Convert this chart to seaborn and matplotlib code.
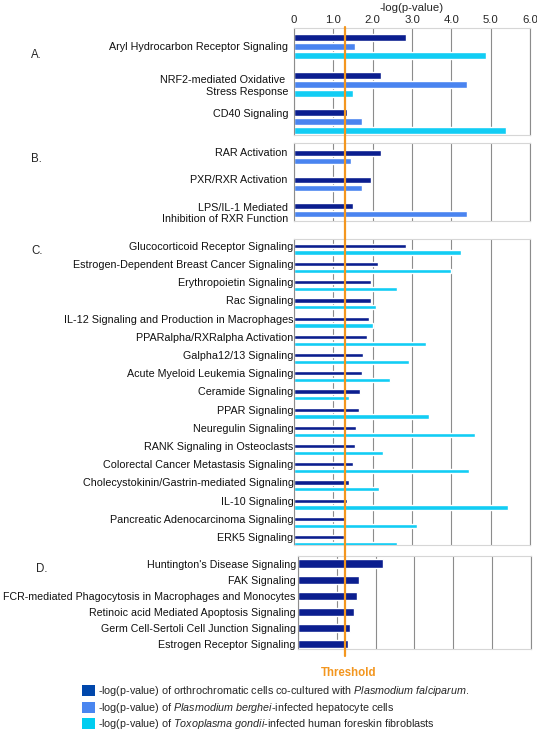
import numpy as np
import pandas as pd
import matplotlib
matplotlib.use("Agg")
import matplotlib.pyplot as plt
import matplotlib.transforms as mtransforms
from matplotlib.lines import Line2D
from matplotlib.patches import Patch
import seaborn as sns

# ---- data ----
SERIES = ["falciparum", "berghei", "gondii"]

a_pathways = [
    "Aryl Hydrocarbon Receptor Signaling",
    "NRF2-mediated Oxidative \nStress Response",
    "CD40 Signaling",
]
a_falciparum = [2.84, 2.20, 1.36]
a_berghei = [1.54, 4.40, 1.74]
a_gondii = [4.87, 1.51, 5.38]

b_pathways = [
    "RAR Activation",
    "PXR/RXR Activation",
    "LPS/IL-1 Mediated\nInhibition of RXR Function",
]
b_falciparum = [2.22, 1.96, 1.49]
b_berghei = [1.44, 1.72, 4.39]

c_pathways = [
    "Glucocorticoid Receptor Signaling",
    "Estrogen-Dependent Breast Cancer Signaling",
    "Erythropoietin Signaling",
    "Rac Signaling",
    "IL-12 Signaling and Production in Macrophages",
    "PPARalpha/RXRalpha Activation",
    "Galpha12/13 Signaling",
    "Acute Myeloid Leukemia Signaling",
    "Ceramide Signaling",
    "PPAR Signaling",
    "Neuregulin Signaling",
    "RANK Signaling in Osteoclasts",
    "Colorectal Cancer Metastasis Signaling",
    "Cholecystokinin/Gastrin-mediated Signaling",
    "IL-10 Signaling",
    "Pancreatic Adenocarcinoma Signaling",
    "ERK5 Signaling",
]
c_falciparum = [2.85, 2.13, 1.96, 1.96, 1.90, 1.86, 1.76, 1.74, 1.69,
                1.65, 1.58, 1.54, 1.51, 1.40, 1.34, 1.33, 1.27]
c_gondii = [4.25, 4.00, 2.61, 2.09, 2.00, 3.36, 2.92, 2.43, 1.40,
            3.43, 4.60, 2.26, 4.44, 2.16, 5.44, 3.12, 2.61]

d_pathways = [
    "Huntington's Disease Signaling",
    "FAK Signaling",
    "FCR-mediated Phagocytosis in Macrophages and Monocytes",
    "Retinoic acid Mediated Apoptosis Signaling",
    "Germ Cell-Sertoli Cell Junction Signaling",
    "Estrogen Receptor Signaling",
]
d_falciparum = [2.19, 1.57, 1.52, 1.44, 1.35, 1.28]

THRESHOLD = 1.3
X_TICKS = [0, 1, 2, 3, 4, 5, 6]
X_TICK_LABELS = ["0", "1.0", "2.0", "3.0", "4.0", "5.0", "6.0"]

LEGEND_LABELS = [
    r"-log(p-value) of orthrochromatic cells co-cultured with $\mathit{Plasmodium\ falciparum.}$",
    r"-log(p-value) of $\mathit{Plasmodium\ berghei}$-infected hepatocyte cells",
    r"-log(p-value) of $\mathit{Toxoplasma\ gondii}$-infected human foreskin fibroblasts",
]

# ---- styling ----
BAR_COLORS = {"falciparum": "#0b1e8f", "berghei": "#4a84f0", "gondii": "#12cdf4"}
LEGEND_COLORS = ["#0047ab", "#4a86f0", "#00cdf0"]
GRID = "#8c8c8c"
FRAME = "#d6d6d6"
ORANGE = "#f3961f"
FS = 7.72

sns.set_style("white")
plt.rcParams["font.family"] = ["Liberation Sans", "DejaVu Sans"]
plt.rcParams["mathtext.fontset"] = "custom"
plt.rcParams["mathtext.rm"] = "Liberation Sans"
plt.rcParams["mathtext.it"] = "Liberation Sans:italic"

W, H = 537, 733


def px_axes(fig, left, top, right, bottom):
    return fig.add_axes([left / W, 1 - bottom / H, (right - left) / W, (bottom - top) / H])


def long_table(pathways, **series):
    df = pd.DataFrame({"pathway": pathways, **series})
    return df.melt(id_vars="pathway", var_name="series", value_name="score")


def draw_panel(ax, df, hue_order, width, gap, ylim, label_shift, pad, labelsize=FS):
    sns.barplot(
        data=df,
        x="score",
        y="pathway",
        hue="series",
        hue_order=hue_order,
        palette=[BAR_COLORS[h] for h in hue_order],
        orient="h",
        width=width,
        gap=gap,
        saturation=1,
        errorbar=None,
        legend=False,
        ax=ax,
    )
    labels = list(df["pathway"].unique())
    ax.set_yticks(np.arange(len(labels)) + np.asarray(label_shift), labels)
    ax.set_ylim(*ylim)
    ax.set_xlim(0, 6)
    ax.set_xticks(X_TICKS, X_TICK_LABELS)
    ax.grid(axis="x", color=GRID, linewidth=0.8)
    ax.grid(axis="y", visible=False)
    ax.set_axisbelow(True)
    ax.set_xlabel("")
    ax.set_ylabel("")
    for side in ["left", "right"]:
        ax.spines[side].set_color(GRID)
        ax.spines[side].set_linewidth(0.8)
    for side in ["top", "bottom"]:
        ax.spines[side].set_color(FRAME)
        ax.spines[side].set_linewidth(0.8)
    ax.tick_params(axis="y", length=0, pad=pad, labelsize=labelsize, colors="#111111")
    ax.tick_params(axis="x", length=0, labelbottom=False, labelsize=FS + 0.5)


fig = plt.figure(figsize=(W / 100, H / 100), dpi=100)

ax_a = px_axes(fig, 294, 28, 530, 135)
ax_b = px_axes(fig, 294, 143.3, 530, 220.7)
ax_c = px_axes(fig, 294, 239.3, 530, 545)
ax_d = px_axes(fig, 298, 555.7, 530.7, 649.3)

draw_panel(
    ax_a,
    long_table(a_pathways, falciparum=a_falciparum, berghei=a_berghei, gondii=a_gondii),
    ["falciparum", "berghei", "gondii"],
    width=0.714, gap=0.22, ylim=(2.35, -0.484),
    label_shift=[0, 0, -0.24], pad=4.2,
)
draw_panel(
    ax_b,
    long_table(b_pathways, falciparum=b_falciparum, berghei=b_berghei),
    ["falciparum", "berghei"],
    width=0.60, gap=0.25, ylim=(2.39, -0.53),
    label_shift=[-0.2, -0.17, 0.05], pad=4.5,
)
draw_panel(
    ax_c,
    long_table(c_pathways, falciparum=c_falciparum, gondii=c_gondii),
    ["falciparum", "gondii"],
    width=0.747, gap=0.38, ylim=(16.25, -0.544),
    label_shift=-0.19, pad=0.3,
)
draw_panel(
    ax_d,
    long_table(d_pathways, falciparum=d_falciparum),
    ["falciparum"],
    width=0.53, gap=0, ylim=(5.32, -0.5),
    label_shift=0, pad=1.6, labelsize=FS - 0.08,
)

# top axis labels on panel A only
ax_a.tick_params(axis="x", labeltop=True, pad=2)
ax_a.xaxis.set_label_position("top")
ax_a.set_xlabel("-log(p-value)", fontsize=FS + 0.5, labelpad=3)

# panel letters
for letter, y in [("A.", 54.5), ("B.", 159.5), ("C.", 251), ("D.", 569)]:
    x = 36 if letter == "D." else 31
    fig.text(x / W, 1 - y / H, letter, fontsize=FS + 0.6, va="center", ha="left")

# threshold line through all panels
trans = mtransforms.blended_transform_factory(ax_a.transData, fig.transFigure)
fig.add_artist(Line2D([THRESHOLD, THRESHOLD], [1 - 27 / H, 1 - 656 / H],
                      transform=trans, color=ORANGE, linewidth=1.6, zorder=10))
fig.text(349 / W, 1 - 673 / H, "Threshold", color=ORANGE, fontsize=FS + 0.6,
         fontweight="bold", ha="center", va="center")

# legend
handles = [Patch(facecolor=c, edgecolor="none") for c in LEGEND_COLORS]
fig.legend(
    handles,
    LEGEND_LABELS,
    loc="upper left",
    bbox_to_anchor=(82 / W, 1 - 684 / H),
    frameon=False,
    fontsize=FS,
    handlelength=1.2,
    handleheight=1.2,
    handletextpad=0.25,
    labelspacing=0.25,
    borderpad=0,
    borderaxespad=0,
)

fig.savefig("out.png", dpi=100)
